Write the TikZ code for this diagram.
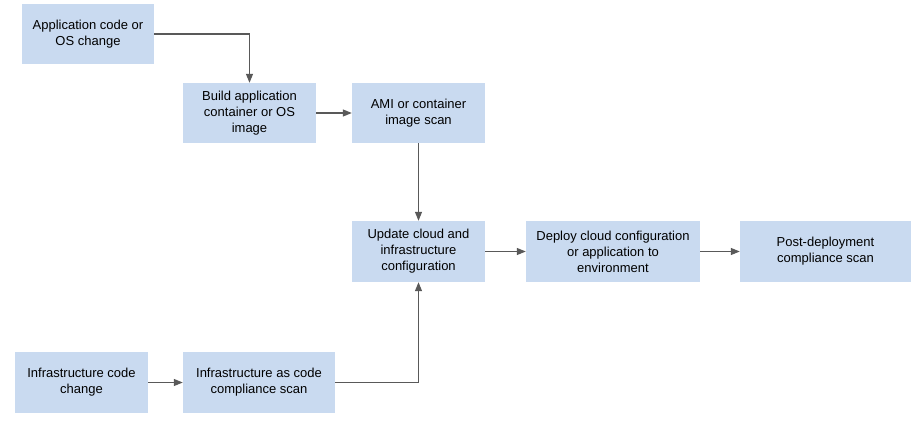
\documentclass[tikz,border=0pt]{standalone}
\usepackage{fontspec}
\setmainfont{Liberation Sans}
\usetikzlibrary{arrows.meta}
\definecolor{boxblue}{HTML}{C9DAF0}
\definecolor{linegray}{HTML}{595959}
\begin{document}
\begin{tikzpicture}[x=1pt,y=-1pt,
  stage/.style={fill=boxblue, align=center, inner sep=0pt, font=\fontsize{13}{16}\selectfont},
  flow/.style={draw=linegray, line width=1.2pt, -{Triangle[length=9pt,width=7pt]}}]
\useasboundingbox (0,0) rectangle (919,426);
\node[stage, minimum width=132, minimum height=60] (appchange) at (88,34){Application code or\\OS change};
\node[stage, minimum width=133, minimum height=60] (build) at (249.5,113){Build application\\container or OS\\image};
\node[stage, minimum width=133, minimum height=60] (imgscan) at (418.5,113){AMI or container\\image scan};
\node[stage, minimum width=133, minimum height=61] (update) at (418.5,251.5){Update cloud and\\infrastructure\\configuration};
\node[stage, minimum width=174, minimum height=61] (deploy) at (613,251.5){Deploy cloud configuration\\or application to\\environment};
\node[stage, minimum width=171, minimum height=61] (postscan) at (825.5,251.5){Post-deployment\\compliance scan};
\node[stage, minimum width=133, minimum height=61] (infchange) at (81.5,382.5){Infrastructure code\\change};
\node[stage, minimum width=152, minimum height=61] (iacscan) at (259,382.5){Infrastructure as code\\compliance scan};
\draw[flow] (appchange.east) -| (build.north);
\draw[flow] (build) -- (imgscan);
\draw[flow] (imgscan) -- (update);
\draw[flow] (update) -- (deploy);
\draw[flow] (deploy) -- (postscan);
\draw[flow] (infchange) -- (iacscan);
\draw[flow] (iacscan.east) -| (update.south);
\end{tikzpicture}
\end{document}
